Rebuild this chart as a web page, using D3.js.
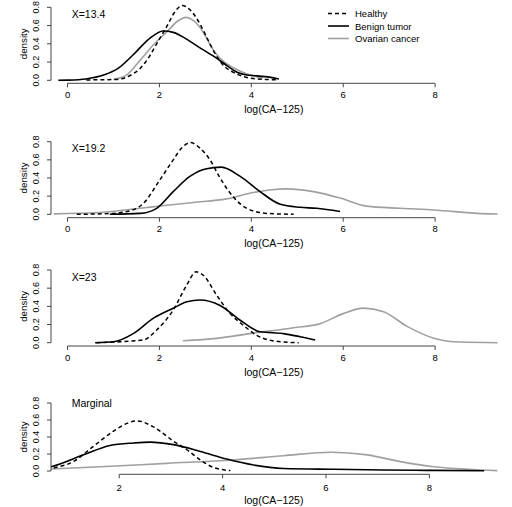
<!DOCTYPE html>
<html><head><meta charset="utf-8">
<script src="https://cdn.jsdelivr.net/npm/d3@7"></script>
<style>body{margin:0;background:#fff}svg{display:block}text{font-family:"Liberation Sans",Arial,sans-serif;fill:#000}</style>
</head><body><svg id="c" width="512" height="507"></svg>
<script>
const seriesNames = ["Healthy", "Benign tumor", "Ovarian cancer"];
const panelLabels = ["X=13.4", "X=19.2", "X=23", "Marginal"];
const yTicks = [0, 0.2, 0.4, 0.6, 0.8];
const xTicksTop = [0, 2, 4, 6, 8];
const xTicksMarginal = [2, 4, 6, 8];

// panel 1 (X=13.4)
const p1Healthy = [[0.41,0.004],[1.08,0.01],[1.35,0.05],[1.58,0.13],[1.78,0.26],[1.94,0.40],[2.16,0.59],[2.35,0.76],[2.5,0.82],[2.65,0.78],[2.88,0.62],[3.05,0.45],[3.25,0.26],[3.42,0.15],[3.6,0.09],[3.8,0.045],[4.04,0.02],[4.3,0.01],[4.58,0.005]];
const p1Benign = [[-0.2,0],[0,0.002],[0.4,0.015],[0.8,0.06],[1.1,0.13],[1.43,0.28],[1.79,0.46],[2.08,0.54],[2.3,0.525],[2.56,0.46],[2.9,0.35],[3.25,0.24],[3.5,0.15],[3.7,0.085],[3.9,0.058],[4.1,0.05],[4.3,0.04],[4.6,0.015]];
const p1Cancer = [[1.0,0.01],[1.29,0.06],[1.58,0.22],[1.87,0.39],[2.16,0.53],[2.4,0.65],[2.58,0.69],[2.75,0.65],[2.95,0.53],[3.15,0.35],[3.32,0.24],[3.6,0.14],[3.8,0.09],[3.96,0.06],[4.25,0.025]];
// panel 2 (X=19.2)
const p2Healthy = [[0.2,0],[0.9,0.008],[1.29,0.03],[1.65,0.12],[2.01,0.38],[2.3,0.6],[2.5,0.74],[2.68,0.79],[2.88,0.73],[3.1,0.6],[3.32,0.4],[3.61,0.19],[3.9,0.066],[4.34,0.01],[4.92,0]];
const p2Benign = [[0.92,0],[1.58,0.01],[1.94,0.066],[2.3,0.25],[2.67,0.42],[3.0,0.5],[3.35,0.52],[3.75,0.42],[4.19,0.25],[4.63,0.11],[5.06,0.077],[5.42,0.066],[5.93,0.03]];
const p2Cancer = [[-0.3,0.005],[0.7,0.02],[1.58,0.066],[2.16,0.1],[2.74,0.13],[3.46,0.17],[4.04,0.24],[4.4,0.268],[4.77,0.28],[5.35,0.25],[5.93,0.18],[6.51,0.09],[7.24,0.066],[7.97,0.048],[9.02,0.007],[9.4,0.003]];
// panel 3 (X=23)
const p3Healthy = [[0.63,0],[1.65,0.03],[1.94,0.14],[2.3,0.36],[2.59,0.63],[2.8,0.78],[2.96,0.74],[3.25,0.52],[3.54,0.32],[3.83,0.19],[4.12,0.08],[4.48,0.02],[5.03,0]];
const p3Benign = [[0.6,0],[1.0,0.01],[1.43,0.1],[1.87,0.27],[2.3,0.38],[2.6,0.45],[2.88,0.47],[3.32,0.41],[3.75,0.25],[4.19,0.12],[4.7,0.1],[5.06,0.066],[5.39,0.03]];
const p3Cancer = [[2.51,0.022],[3.25,0.048],[3.97,0.1],[4.92,0.165],[5.5,0.21],[6.0,0.32],[6.44,0.38],[6.88,0.34],[7.39,0.18],[7.97,0.05],[8.55,0.007],[9.4,0]];
// panel 4 (Marginal)
const p4Healthy = [[0.6,0.02],[0.68,0.03],[1.11,0.11],[1.5,0.29],[1.89,0.47],[2.15,0.56],[2.34,0.59],[2.66,0.52],[3.05,0.35],[3.31,0.25],[3.57,0.13],[3.83,0.04],[4.15,0.005]];
const p4Benign = [[0.6,0.04],[0.68,0.05],[1.31,0.19],[1.82,0.3],[2.28,0.33],[2.6,0.34],[3.05,0.31],[3.57,0.23],[4.08,0.14],[4.6,0.07],[5.18,0.03],[6.15,0.02],[7.12,0.012],[7.73,0.008],[8.09,0.007],[9.06,0.003]];
const p4Cancer = [[0.6,0.022],[0.68,0.024],[1.63,0.05],[2.92,0.09],[4.21,0.13],[5.18,0.18],[6.1,0.22],[6.8,0.19],[7.44,0.11],[8.09,0.05],[8.74,0.02],[9.32,0.004]];

const panels = [
  {label: panelLabels[0], data: [p1Healthy, p1Benign, p1Cancer], xr: [-0.36, 9.36], ticks: xTicksTop, y0: 80.3, y8: 7.3, axY: 83.3, tickBase: 97.5, labBase: 113, annBase: 18.3},
  {label: panelLabels[1], data: [p2Healthy, p2Benign, p2Cancer], xr: [-0.36, 9.36], ticks: xTicksTop, y0: 214.3, y8: 141.7, axY: 217.7, tickBase: 231.7, labBase: 247, annBase: 151.7},
  {label: panelLabels[2], data: [p3Healthy, p3Benign, p3Cancer], xr: [-0.36, 9.36], ticks: xTicksTop, y0: 342.7, y8: 270, axY: 346, tickBase: 361, labBase: 376, annBase: 281},
  {label: panelLabels[3], data: [p4Healthy, p4Benign, p4Cancer], xr: [0.68, 9.32], ticks: xTicksMarginal, y0: 471, y8: 403, axY: 474.3, tickBase: 490.7, labBase: 504, annBase: 407}
];
const styles = [
  {color: "#000", dash: "4,3", w: 1.5},
  {color: "#000", dash: null, w: 1.6},
  {color: "#a0a0a0", dash: null, w: 1.6}
];
const svg = d3.select("#c");
const L = 51, R = 497.6;
const axisColor = "#444";

panels.forEach((p, i) => {
  const x = d3.scaleLinear().domain(p.xr).range([L, R]);
  const y = d3.scaleLinear().domain([0, 0.8]).range([p.y0, p.y8]);
  const g = svg.append("g");
  const clipId = "clip" + i;
  svg.append("clipPath").attr("id", clipId).append("rect")
    .attr("x", L).attr("y", p.y8 - 4).attr("width", R - L).attr("height", p.axY - p.y8 + 4);
  const line = d3.line().x(d => x(d[0])).y(d => y(d[1])).curve(d3.curveMonotoneX);
  [2, 1, 0].forEach(k => {
    g.append("path").attr("d", line(p.data[k])).attr("fill", "none")
      .attr("stroke", styles[k].color).attr("stroke-width", styles[k].w)
      .attr("stroke-dasharray", styles[k].dash).attr("clip-path", `url(#${clipId})`);
  });
  // y axis
  const ya = g.append("g").attr("transform", `translate(${L},0)`);
  ya.append("line").attr("x1", 0).attr("x2", 0).attr("y1", y(0)).attr("y2", y(0.8)).attr("stroke", axisColor);
  yTicks.forEach(t => {
    ya.append("line").attr("x1", 0).attr("x2", -4).attr("y1", y(t)).attr("y2", y(t)).attr("stroke", axisColor);
    ya.append("text").attr("transform", `translate(${-12.5},${y(t)}) rotate(-90)`)
      .attr("text-anchor", "middle").attr("font-size", 9).text(d3.format(".1f")(t));
  });
  g.append("text").attr("transform", `translate(26.5,${(p.y0 + p.y8) / 2}) rotate(-90)`)
    .attr("text-anchor", "middle").attr("font-size", 9.8).text("density");
  // x axis
  const xa = g.append("g").attr("transform", `translate(0,${p.axY})`);
  xa.append("line").attr("x1", x(p.ticks[0])).attr("x2", x(p.ticks[p.ticks.length - 1])).attr("y1", 0).attr("y2", 0).attr("stroke", axisColor);
  p.ticks.forEach(t => {
    xa.append("line").attr("x1", x(t)).attr("x2", x(t)).attr("y1", 0).attr("y2", 4).attr("stroke", axisColor);
    g.append("text").attr("x", x(t)).attr("y", p.tickBase).attr("text-anchor", "middle").attr("font-size", 9.5).text(t);
  });
  g.append("text").attr("x", (L + R) / 2 - 0.5).attr("y", p.labBase).attr("text-anchor", "middle").attr("font-size", 10.5).text("log(CA\u2212125)");
  g.append("text").attr("x", 71.7).attr("y", p.annBase).attr("font-size", 10.5).text(p.label);
});

// legend
const legY = [13.5, 26, 38.5];
const leg = svg.append("g");
seriesNames.forEach((n, k) => {
  leg.append("line").attr("x1", 328).attr("x2", 349).attr("y1", legY[k]).attr("y2", legY[k])
    .attr("stroke", styles[k].color).attr("stroke-width", styles[k].w).attr("stroke-dasharray", styles[k].dash);
  leg.append("text").attr("x", 355).attr("y", legY[k] + 3.5).attr("font-size", 9.5).text(n);
});
</script></body></html>
